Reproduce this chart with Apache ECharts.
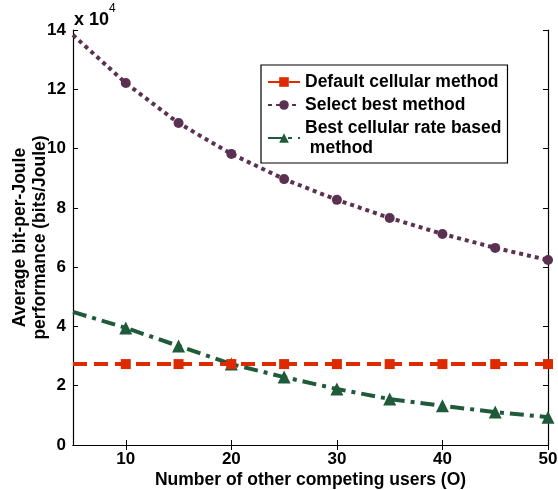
<!DOCTYPE html>
<html>
<head>
<meta charset="utf-8">
<script src="https://cdn.jsdelivr.net/npm/echarts@6/dist/echarts.min.js"></script>
<style>html,body{margin:0;padding:0;background:#fff}#c{width:558px;height:490px}</style>
</head>
<body>
<div id="c"></div>
<script>
var users = [5, 10, 15, 20, 25, 30, 35, 40, 45, 50];
var defaultCellular = [27300, 27300, 27300, 27300, 27300, 27300, 27300, 27300, 27300, 27300];
var selectBest = [138300, 122100, 108600, 98200, 89700, 82700, 76600, 71200, 66500, 62400];
var bestCellularRate = [44900, 39500, 33400, 27300, 22900, 18900, 15500, 13200, 11100, 9400];
var xTicks = [10, 20, 30, 40, 50];
var yTicks = [0, 20000, 40000, 60000, 80000, 100000, 120000, 140000];

var FONT = 'Liberation Sans';
function pts(arr) {
  return users.map(function (u, i) {
    var p = { value: [u, arr[i]] };
    if (i === 0) p.symbol = 'none';
    return p;
  });
}
var chart = echarts.init(document.getElementById('c'), null, { renderer: 'canvas' });
var tickStyle = { show: true, inside: true, length: 5, lineStyle: { color: '#000', width: 1 } };
var lineAx = { show: true, lineStyle: { color: '#000', width: 1.2 } };
var option = {
  animation: false,
  backgroundColor: '#fff',
  grid: { left: 73, right: 10, top: 30, bottom: 45, containLabel: false, outerBoundsMode: 'none' },
  legend: {
    orient: 'vertical',
    left: 261, top: 65,
    width: 246,
    backgroundColor: '#fff',
    borderColor: '#000', borderWidth: 1.2, borderRadius: 0,
    padding: [7, 6, 5, 6],
    itemGap: 3,
    itemWidth: 32, itemHeight: 12,
    textStyle: { fontFamily: FONT, fontWeight: 'bold', fontSize: 17.5, color: '#000', lineHeight: 20 },
    data: ['Default cellular method', 'Select best method', 'Best cellular rate based\n method']
  },
  xAxis: [{
    type: 'value', min: 5, max: 50, position: 'bottom',
    name: 'Number of other competing users (O)', nameLocation: 'middle', nameGap: 26,
    nameMoveOverlap: false,
    nameTextStyle: { fontFamily: FONT, fontWeight: 'bold', fontSize: 17.5, color: '#000' },
    axisLine: lineAx,
    axisTick: Object.assign({ customValues: xTicks }, tickStyle),
    axisLabel: { customValues: xTicks, fontFamily: FONT, fontWeight: 'bold', fontSize: 17, color: '#000', margin: 6 },
    splitLine: { show: false }
  }, {
    type: 'value', min: 5, max: 50, position: 'top',
    axisLine: lineAx,
    axisTick: Object.assign({ customValues: xTicks }, tickStyle),
    axisLabel: { show: false }, splitLine: { show: false }
  }],
  yAxis: [{
    type: 'value', min: 0, max: 140000, interval: 20000, position: 'left',
    name: 'Average bit-per-Joule\nperformance (bits/Joule)', nameLocation: 'middle', nameGap: 23,
    nameMoveOverlap: false,
    nameTextStyle: { fontFamily: FONT, fontWeight: 'bold', fontSize: 17.5, color: '#000', lineHeight: 20 },
    axisLine: lineAx,
    axisTick: tickStyle,
    axisLabel: { fontFamily: FONT, fontWeight: 'bold', fontSize: 17, color: '#000', margin: 7,
      formatter: function (v) { return String(v / 10000); } },
    splitLine: { show: false }
  }, {
    type: 'value', min: 0, max: 140000, interval: 20000, position: 'right',
    axisLine: lineAx, axisTick: tickStyle, axisLabel: { show: false }, splitLine: { show: false }
  }],
  graphic: [{
    type: 'text', left: 74, top: 3,
    style: {
      text: '{a|x 10}{s|4}',
      rich: {
        a: { fontFamily: FONT, fontWeight: 'bold', fontSize: 18, fill: '#000', padding: [8, 0, 0, 0] },
        s: { fontFamily: FONT, fontSize: 12, fill: '#000', verticalAlign: 'top' }
      }
    }
  }],
  series: [{
    name: 'Default cellular method', type: 'line', data: pts(defaultCellular),
    symbol: 'rect', symbolSize: 10, showSymbol: true,
    lineStyle: { color: '#dd2a00', width: 4, type: [14, 7] },
    itemStyle: { color: '#dd2a00' }, z: 3
  }, {
    name: 'Select best method', type: 'line', data: pts(selectBest),
    symbol: 'circle', symbolSize: 10,
    lineStyle: { color: '#5b3152', width: 4, type: [4, 4] },
    itemStyle: { color: '#5b3152' }, z: 2
  }, {
    name: 'Best cellular rate based\n method', type: 'line', data: pts(bestCellularRate),
    symbol: 'triangle', symbolSize: 13,
    lineStyle: { color: '#1f5a3a', width: 4, type: [14, 6, 4, 6] },
    itemStyle: { color: '#1f5a3a' }, z: 2
  }]
};
chart.setOption(option);
</script>
</body>
</html>
